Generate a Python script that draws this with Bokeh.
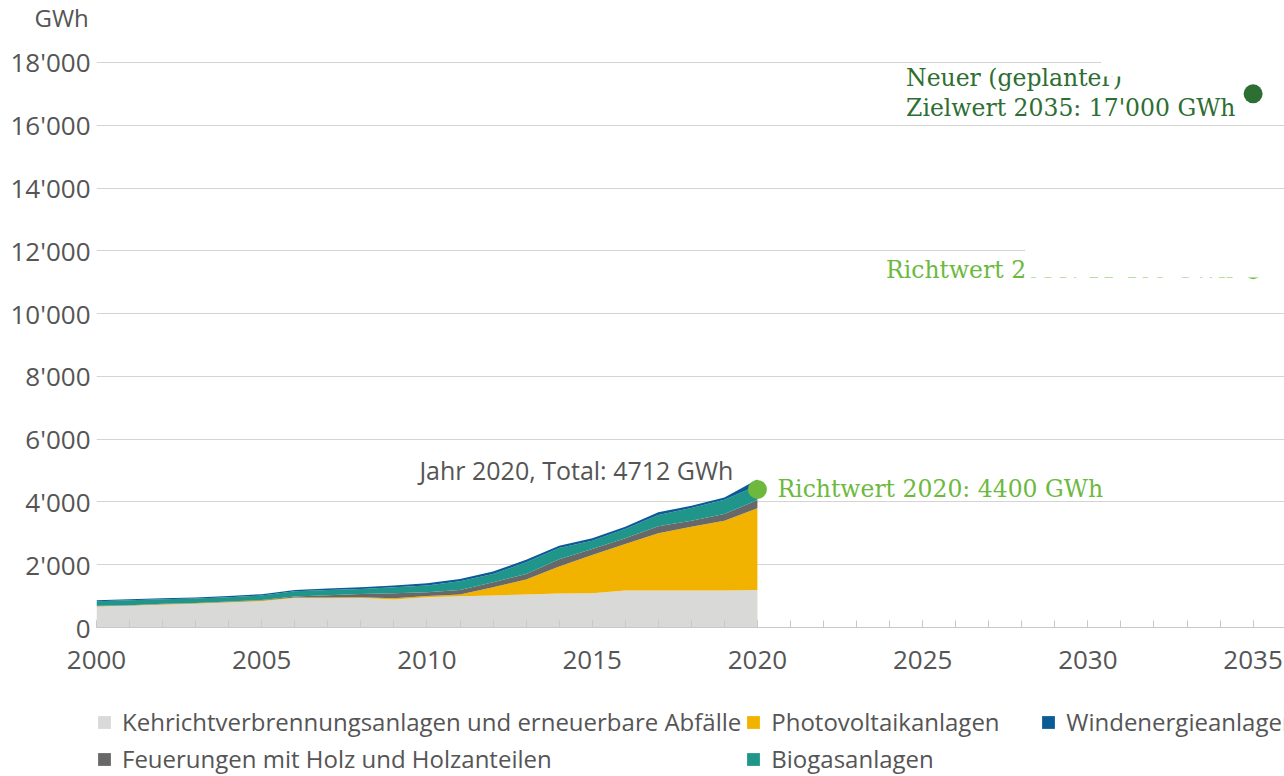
from bokeh.plotting import figure
from bokeh.layouts import column
from bokeh.models import ColumnDataSource, Legend, LegendItem, Title, FixedTicker, Range1d
from bokeh.core.properties import value
from bokeh.embed import file_html
from bokeh.resources import INLINE

# ---------------- data ----------------
years = list(range(2000, 2021))
kva = [668, 689, 721, 753, 795, 837, 943, 933, 943, 890, 965, 996, 1018, 1049, 1081, 1092, 1177, 1177, 1177, 1177, 1198]
pv = [10, 11, 21, 21, 21, 22, 11, 21, 22, 43, 42, 53, 265, 477, 859, 1219, 1484, 1823, 2035, 2226, 2600]
holz = [11, 10, 11, 10, 11, 21, 32, 74, 105, 159, 116, 149, 159, 181, 233, 191, 180, 222, 191, 212, 262]
biogas = [148, 159, 148, 138, 138, 138, 169, 170, 160, 190, 213, 275, 265, 371, 360, 265, 297, 361, 402, 455, 460]
wind = [32, 32, 32, 32, 42, 42, 43, 42, 53, 54, 73, 75, 74, 84, 75, 74, 74, 85, 75, 75, 192]

series_keys = ["kva", "pv", "holz", "biogas", "wind"]
series_names = [
    "Kehrichtverbrennungsanlagen und erneuerbare Abfälle",
    "Photovoltaikanlagen",
    "Feuerungen mit Holz und Holzanteilen",
    "Biogasanlagen",
    "Windenergieanlagen",
]
series_colors = ["#d9d9d8", "#f2b300", "#686868", "#20968a", "#0b5c96"]

target_years = [2020, 2035, 2035]
target_values = [4400, 11400, 17000]
target_colors = ["#6cb93e", "#6cb93e", "#2d6e32"]

total_2020_label = "Jahr 2020, Total: 4712 GWh"
total_2020 = 4712
richtwert_2020_label = "Richtwert 2020: 4400 GWh"
richtwert_2035_label = "Richtwert 2035: 11'400 GWh"
ziel_2035_lines = ["Neuer (geplanter)", "Zielwert 2035: 17'000 GWh"]
unit_label = "GWh"

y_ticks = [0, 2000, 4000, 6000, 8000, 10000, 12000, 14000, 16000, 18000]
y_tick_labels = ["0", "2'000", "4'000", "6'000", "8'000", "10'000", "12'000", "14'000", "16'000", "18'000"]
x_ticks = [2000, 2005, 2010, 2015, 2020, 2025, 2030, 2035]
x_minor_ticks = list(range(2000, 2036))

# masking boxes present in the original graphic (left, right, bottom, top)
mask_left = [2030.4, 2028.1]
mask_right = [2037, 2037]
mask_bottom = [17550, 11150]
mask_top = [19500, 13000]

# ---------------- main figure ----------------
src = ColumnDataSource(dict(year=years, kva=kva, pv=pv, holz=holz, biogas=biogas, wind=wind))

FONT = "Open Sans"
SERIF = "DejaVu Serif"
TXT = "#555555"

p = figure(
    width=1284, height=705,
    x_range=(2000, 2035.95), y_range=(0, 18859),
    output_backend="svg", toolbar_location=None,
    min_border_left=96, min_border_right=0, min_border_top=34, min_border_bottom=78,
)
p.outline_line_color = None
p.background_fill_color = "white"

# unit label as a title above the frame
p.add_layout(Title(text=unit_label, align="left", offset=-62, text_font=FONT, text_font_size="24px",
                   text_font_style="normal", text_color=TXT, standoff=0, vertical_align="top"), "above")

areas = p.varea_stack(stackers=series_keys, x="year", color=series_colors, source=src)

# targets
p.scatter(x=target_years, y=target_values, size=19, color=target_colors, line_color=None)

# texts
p.text(x=[2020], y=[total_2020], text=[total_2020_label], x_offset=-24, y_offset=-10,
       text_align="right", text_baseline="middle", text_color=TXT,
       text_font=value(FONT), text_font_size="25px")
p.text(x=[target_years[0]], y=[target_values[0]], text=[richtwert_2020_label], x_offset=20, y_offset=0,
       text_align="left", text_baseline="middle", text_color=target_colors[0],
       text_font=value(SERIF), text_font_size="23.5px")
p.text(x=[target_years[1]], y=[target_values[1]], text=[richtwert_2035_label], x_offset=-20, y_offset=0,
       text_align="right", text_baseline="middle", text_color=target_colors[1],
       text_font=value(SERIF), text_font_size="23.5px")
p.text(x=[target_years[2]] * 2, y=[target_values[2]] * 2, text=ziel_2035_lines, x_offset=-347,
       y_offset=[-16, 14], text_align="left", text_baseline="middle", text_color=target_colors[2],
       text_font=value(SERIF), text_font_size="23.5px")

# white masks
p.quad(left=mask_left, right=mask_right, bottom=mask_bottom, top=mask_top,
       fill_color="white", line_color=None)

# axes
p.xaxis.ticker = FixedTicker(ticks=x_ticks, minor_ticks=x_minor_ticks)
p.xaxis.axis_line_color = "#c8c8c8"
p.xaxis.major_tick_line_color = "#c8c8c8"
p.xaxis.minor_tick_line_color = "#c8c8c8"
p.xaxis.major_tick_in = 7
p.xaxis.major_tick_out = 0
p.xaxis.minor_tick_in = 7
p.xaxis.minor_tick_out = 0
p.xaxis.major_label_standoff = 23
p.xaxis.major_label_text_font = FONT
p.xaxis.major_label_text_font_size = "26px"
p.xaxis.major_label_text_color = TXT

p.yaxis.ticker = FixedTicker(ticks=y_ticks)
p.yaxis.major_label_overrides = {t: l for t, l in zip(y_ticks, y_tick_labels)}
p.yaxis.axis_line_color = None
p.yaxis.major_tick_line_color = None
p.yaxis.minor_tick_line_color = None
p.yaxis.major_label_standoff = 0
p.yaxis.major_label_text_font = FONT
p.yaxis.major_label_text_font_size = "26px"
p.yaxis.major_label_text_color = TXT

p.xgrid.grid_line_color = None
p.ygrid.grid_line_color = "#d4d4d4"
p.ygrid.ticker = FixedTicker(ticks=y_ticks[1:])

# ---------------- legend strip ----------------
lg = figure(width=1284, height=71, output_backend="svg", toolbar_location=None,
            x_range=Range1d(0, 1), y_range=Range1d(0, 1),
            x_axis_location=None, y_axis_location=None,
            min_border_left=96, min_border_right=0, min_border_top=0, min_border_bottom=0)
lg.outline_line_color = None
lg.grid.visible = False
swatches = [lg.varea(x=[-5, -4], y1=[-5, -5], y2=[-4, -4], color=c) for c in series_colors]

order = [0, 1, 4, 2, 3]
items = [LegendItem(label=series_names[i], renderers=[swatches[i]]) for i in order]
legend = Legend(items=items, ncols=3, orientation="horizontal", location="top_left",
                margin=0, padding=0, spacing=4, label_standoff=10, label_width=265,
                glyph_width=16, glyph_height=16, label_height=26,
                label_text_font=FONT, label_text_font_size="24px", label_text_color=TXT,
                border_line_color=None, background_fill_alpha=0)
lg.add_layout(legend)

layout = column(p, lg, spacing=0)
open("out.html", "w").write(file_html(layout, INLINE))
